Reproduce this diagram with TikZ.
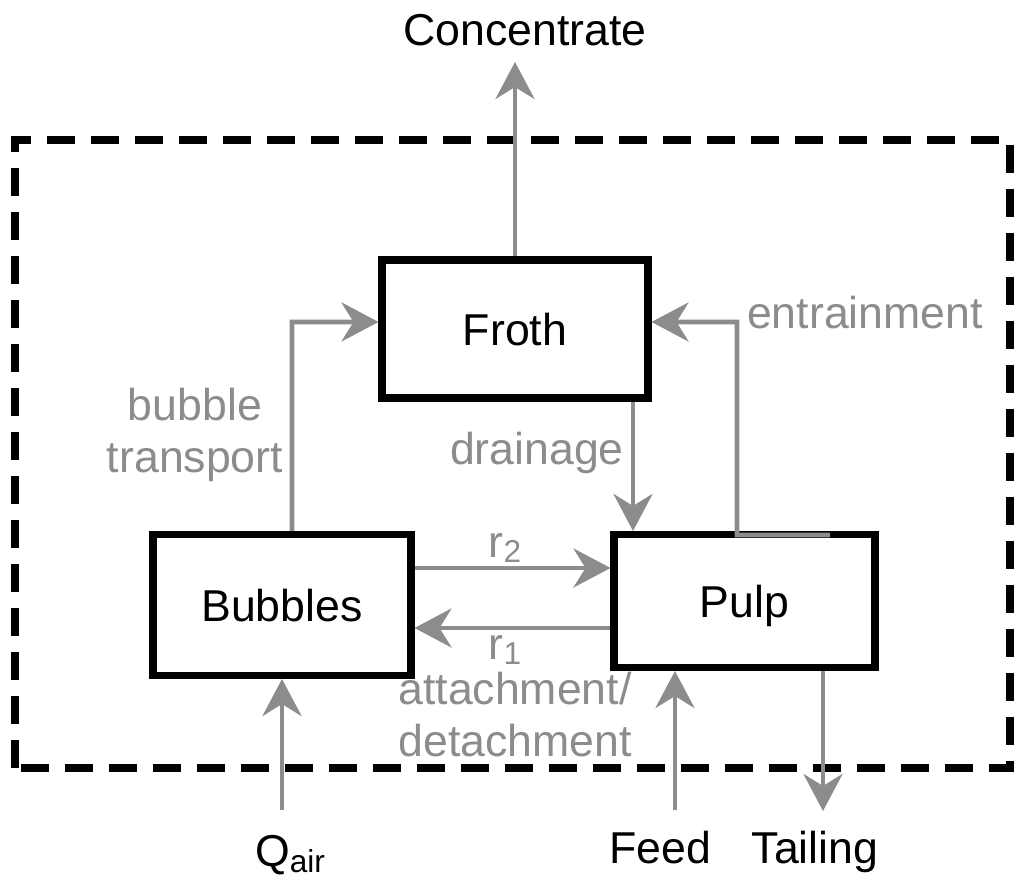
\documentclass[tikz,border=0pt]{standalone}
\usepackage{fontspec}
\setmainfont{Liberation Sans}
\usepackage{tikz}
\usetikzlibrary{arrows.meta, calc}
\definecolor{flowgray}{RGB}{140,140,140}
\tikzset{
  unit/.style={draw, line width=2pt, minimum width=2.6cm, minimum height=1.36cm, text depth=0pt, font=\fontsize{12.7}{15}\selectfont},
  flow/.style={flowgray, line width=1.3pt, -{Stealth[length=3.7mm, width=3.9mm, inset=1.2mm]}},
  flowlabel/.style={flowgray, font=\fontsize{12.7}{14.8}\selectfont, align=center},
  streamlabel/.style={font=\fontsize{12.7}{15}\selectfont}
}
\newcommand{\sub}[1]{{\fontsize{9}{9}\selectfont\raisebox{-0.35ex}{#1}}}

\begin{document}
\begin{tikzpicture}
\useasboundingbox (0,0) rectangle (10.24,8.86);
\draw[line width=2pt, dash pattern=on 0.28cm off 0.16cm] (0.15,1.18) rectangle (10.10,7.46);
\node[unit, minimum width=2.66cm, minimum height=1.38cm] (froth) at (5.15,5.57) {Froth};
\node[unit, minimum width=2.58cm, minimum height=1.41cm] (bubbles) at (2.82,2.81) {Bubbles};
\node[unit, minimum width=2.61cm, minimum height=1.33cm] (pulp) at (7.445,2.85) {Pulp};
\coordinate (conc) at (5.15,8.24);
\coordinate (air) at (2.82,0.76);
\coordinate (feed) at (6.75,0.76);
\coordinate (tail) at (8.23,0.75);
\node[streamlabel] (conclabel) at (5.25,8.56) {Concentrate};
\node[streamlabel] (airlabel) at (2.90,0.31) {Q\sub{air}};
\node[streamlabel] (feedlabel) at (6.60,0.38) {Feed};
\node[streamlabel] (taillabel) at (8.15,0.34) {Tailing};
% streams between units
\draw[flow] (froth.north) -- (conc);
\draw[flow] (bubbles.north -| 2.92,0) -- (2.92,5.64) -- ($(froth.west)+(0,0.07)$);
\draw[flow] (8.30,3.51) -- (7.37,3.51) -- (7.37,5.64) -- ($(froth.east)+(0,0.07)$);
\draw[flow] (froth.south -| 6.33,0) -- (pulp.north -| 6.33,0);
\draw[flow] (bubbles.east |- 0,3.18) -- (pulp.west |- 0,3.18);
\draw[flow] (pulp.west |- 0,2.58) -- (bubbles.east |- 0,2.58);
\draw[flow] (air) -- (bubbles.south);
\draw[flow] (feed) -- (pulp.south -| feed);
\draw[flow] (pulp.south -| tail) -- (tail);
% labels
\node[flowlabel] (transport) at (1.95,4.51) {bubble\\transport};
\node[flowlabel] (entrain) at (8.65,5.73) {entrainment};
\node[flowlabel] (drain) at (5.37,4.33) {drainage};
\node[flowlabel] (rtwo) at (5.05,3.38) {r\sub{2}};
\node[flowlabel] (rone) at (5.05,2.36) {r\sub{1}};
\node[flowlabel, align=left] (attach) at (5.15,1.71) {attachment/\\detachment};
\end{tikzpicture}
\end{document}
